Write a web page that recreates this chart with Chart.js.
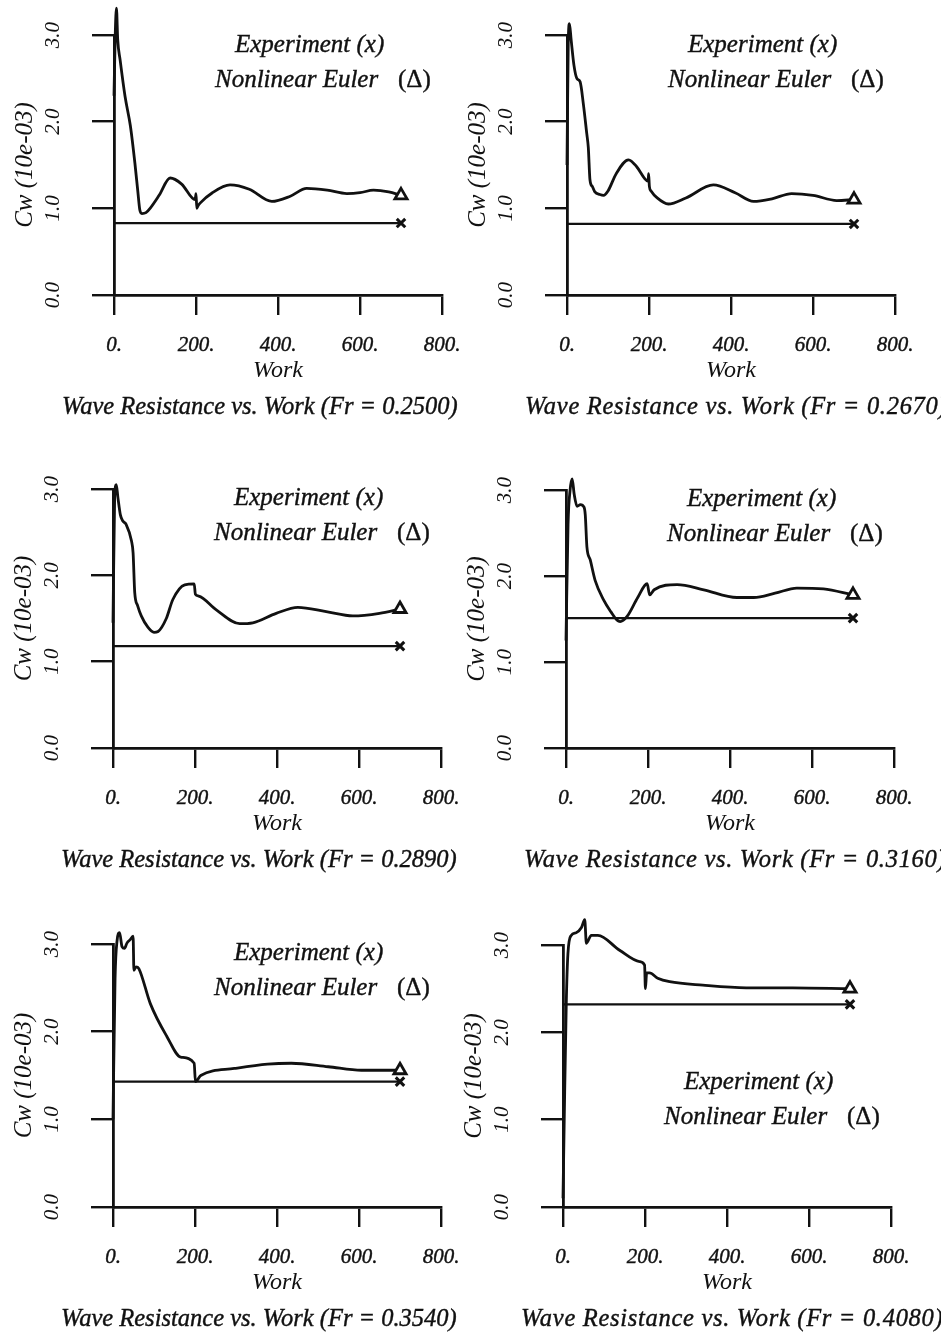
<!DOCTYPE html>
<html><head><meta charset="utf-8">
<script src="https://cdn.jsdelivr.net/npm/chart.js@4.4.1/dist/chart.umd.min.js"></script>
<style>
html,body{margin:0;padding:0;background:#fff;width:941px;height:1340px;overflow:hidden;position:relative;}
canvas{position:absolute;}
.fontwarm{position:absolute;left:-9999px;top:0;font-family:"Liberation Serif";}
</style></head><body>
<div class="fontwarm"><i>Experiment (x) 0.2500</i> (&#916;) Work</div>
<script>
// ---------------- data ----------------
const froudeNumbers = ['0.2500','0.2670','0.2890','0.3160','0.3540','0.4080'];
const xTickLabels = ['0.','200.','400.','600.','800.'];
const yTickLabels = ['0.0','1.0','2.0','3.0'];
const experimentWork = [0, 700];
const experimentCw = [0.83, 0.82, 1.18, 1.51, 1.43, 2.32];

const eulerWork2500 = [0, 3, 6, 9, 15, 27, 40, 51, 58, 63, 68, 78, 88, 110, 137, 165, 198, 200, 202, 205, 210, 240, 283, 330, 385, 430, 470, 520, 568, 600, 633, 670, 700];
const eulerCw2500   = [2.3, 3.0, 3.31, 2.95, 2.71, 2.29, 1.95, 1.52, 1.2, 0.98, 0.94, 0.95, 1.0, 1.15, 1.35, 1.28, 1.1, 1.17, 1.0, 1.03, 1.06, 1.18, 1.27, 1.22, 1.08, 1.14, 1.23, 1.21, 1.17, 1.18, 1.21, 1.19, 1.15];

const eulerWork2670 = [0, 3, 6, 10, 17, 24, 32, 40, 48, 52, 56, 62, 68, 80, 89, 100, 120, 150, 170, 190, 198, 199, 201, 205, 220, 247, 290, 357, 410, 455, 500, 548, 600, 658, 700];
const eulerCw2670   = [1.5, 2.9, 3.13, 2.95, 2.65, 2.5, 2.46, 2.2, 1.87, 1.7, 1.33, 1.25, 1.19, 1.16, 1.15, 1.2, 1.4, 1.56, 1.48, 1.34, 1.31, 1.4, 1.25, 1.2, 1.12, 1.05, 1.12, 1.27, 1.18, 1.08, 1.11, 1.17, 1.15, 1.09, 1.1];

const eulerWork2890 = [0, 4, 8, 12, 18, 24, 32, 45, 49, 53, 60, 69, 85, 100, 110, 130, 146, 175, 198, 201, 209, 252, 309, 341, 398, 451, 520, 585, 650, 700];
const eulerCw2890   = [1.45, 2.9, 3.05, 2.9, 2.7, 2.63, 2.59, 2.4, 2.26, 1.8, 1.65, 1.53, 1.4, 1.34, 1.35, 1.5, 1.72, 1.89, 1.9, 1.78, 1.76, 1.6, 1.44, 1.45, 1.56, 1.63, 1.58, 1.53, 1.56, 1.61];

const eulerWork3160 = [0, 5, 10, 15, 20, 27, 35, 44, 47, 51, 59, 71, 92, 110, 124, 132, 149, 175, 198, 204, 215, 271, 336, 417, 458, 510, 563, 628, 700];
const eulerCw3160   = [1.25, 2.6, 3.0, 3.13, 2.95, 2.81, 2.83, 2.8, 2.71, 2.34, 2.19, 1.95, 1.72, 1.58, 1.49, 1.47, 1.53, 1.75, 1.91, 1.78, 1.84, 1.9, 1.84, 1.75, 1.75, 1.8, 1.86, 1.85, 1.78];

const eulerWork3540 = [0, 5, 10, 16, 22, 28, 34, 42, 49, 51, 56, 63, 91, 132, 165, 198, 201, 214, 296, 377, 435, 525, 606, 650, 700];
const eulerCw3540   = [1.0, 2.6, 3.04, 3.13, 2.97, 2.95, 3.01, 3.05, 3.09, 2.7, 2.74, 2.72, 2.32, 1.94, 1.71, 1.64, 1.43, 1.5, 1.58, 1.63, 1.64, 1.6, 1.56, 1.56, 1.56];

const eulerWork4080 = [0, 3, 8, 12, 20, 32, 45, 53, 57, 69, 85, 138, 187, 199, 201, 204, 211, 231, 260, 341, 447, 560, 700];
const eulerCw4080   = [0.1, 1.0, 2.34, 2.9, 3.11, 3.14, 3.2, 3.29, 3.02, 3.11, 3.11, 2.94, 2.81, 2.77, 2.5, 2.68, 2.68, 2.62, 2.58, 2.54, 2.51, 2.51, 2.5];

const eulerWork = [eulerWork2500, eulerWork2670, eulerWork2890, eulerWork3160, eulerWork3540, eulerWork4080];
const eulerCw   = [eulerCw2500, eulerCw2670, eulerCw2890, eulerCw3160, eulerCw3540, eulerCw4080];

// ---------------- layout (canvas placement) ----------------
const panelLayout = [
  {left: 0,   top: 0,   plotH: 260, col: 0, noteTop: 10},
  {left: 453, top: 0,   plotH: 260, col: 1, noteTop: 10},
  {left: -1,  top: 454, plotH: 259, col: 0, noteTop: 9},
  {left: 452, top: 455, plotH: 258, col: 1, noteTop: 9},
  {left: -1,  top: 909, plotH: 263, col: 0, noteTop: 9},
  {left: 449, top: 910, plotH: 262, col: 1, noteTop: 137}
];
const CANVAS_W = 500, CANVAS_H = 440, Y_W = 114, X_H = 90, PAD_TOP = 35;
const INK = '#111';
const SERIF = '"Liberation Serif", "Times New Roman", Times, serif';

const textPlugin = {
  id: 'panelText',
  afterDraw(chart, args, opts) {
    const {ctx, chartArea: a} = chart;
    const ys = chart.scales.y;
    ctx.save();
    ctx.fillStyle = INK;
    ctx.strokeStyle = INK;
    ctx.lineWidth = 0.4;
    ctx.font = 'italic 21px ' + SERIF;
    ctx.textAlign = 'center';
    ctx.textBaseline = 'middle';
    yTickLabels.forEach(lab => {
      const y = ys.getPixelForValue(parseFloat(lab));
      ctx.save();
      ctx.translate(a.left - 61, y);
      ctx.rotate(-Math.PI / 2);
      ctx.fillText(lab, 0, 0);
      ctx.restore();
    });
    ctx.textAlign = 'left';
    ctx.font = 'italic 25px ' + SERIF;
    const draw = (t, x, y) => { ctx.fillText(t, x, y); ctx.strokeText(t, x, y); };
    draw('Experiment (x)', a.left + 121, a.top + opts.noteTop);
    draw('Nonlinear Euler', a.left + 101, a.top + opts.noteTop + 35);
    ctx.font = '25px ' + SERIF;
    draw('(\u0394)', a.left + 284, a.top + opts.noteTop + 35);
    ctx.font = 'italic 24.5px ' + SERIF;
    if (opts.col === 1 && 'letterSpacing' in ctx) ctx.letterSpacing = '0.7px';
    draw(opts.caption, a.left + (opts.col === 0 ? -52 : -42), a.bottom + 113);
    ctx.restore();
  }
};

const charts = [];
panelLayout.forEach((p, i) => {
  const cv = document.createElement('canvas');
  cv.width = CANVAS_W; cv.height = CANVAS_H;
  cv.style.left = p.left + 'px'; cv.style.top = p.top + 'px';
  cv.style.width = CANVAS_W + 'px'; cv.style.height = CANVAS_H + 'px';
  document.body.appendChild(cv);

  const eData = eulerWork[i].map((x, k) => ({x, y: eulerCw[i][k]}));
  const xData = experimentWork.map(x => ({x, y: experimentCw[i]}));
  const nE = eData.length;

  charts.push(new Chart(cv.getContext('2d'), {
    type: 'line',
    data: {
      datasets: [
        {
          label: 'Nonlinear Euler',
          data: eData,
          borderColor: INK, borderWidth: 2.8,
          cubicInterpolationMode: 'monotone',
          capBezierPoints: false,
          clip: false,
          pointStyle: 'triangle',
          pointRadius: ctx => ctx.dataIndex === nE - 1 ? 7 : 0,
          pointBorderWidth: 2.8,
          pointBorderColor: INK,
          pointBackgroundColor: '#fff'
        },
        {
          label: 'Experiment',
          data: xData,
          borderColor: INK, borderWidth: 2.2,
          clip: false,
          pointStyle: 'crossRot',
          pointRadius: ctx => ctx.dataIndex === 1 ? 6 : 0,
          pointBorderWidth: 3,
          pointBorderColor: INK
        }
      ]
    },
    options: {
      responsive: false,
      animation: false,
      devicePixelRatio: 1,
      events: [],
      layout: {padding: {left: 0, top: PAD_TOP, right: CANVAS_W - Y_W - 328, bottom: CANVAS_H - PAD_TOP - p.plotH - X_H}},
      plugins: {
        legend: {display: false},
        tooltip: {enabled: false},
        title: {display: false},
        panelText: {caption: 'Wave Resistance vs. Work (Fr = ' + froudeNumbers[i] + ')', col: p.col, noteTop: p.noteTop}
      },
      scales: {
        x: {
          type: 'linear', min: 0, max: 800,
          afterFit: s => { s.height = X_H; },
          ticks: {
            stepSize: 200, maxRotation: 0, minRotation: 0, autoSkip: false,
            padding: 18, color: INK,
            textStrokeColor: INK, textStrokeWidth: 0.4,
            font: {family: SERIF, size: 21, style: 'italic'},
            callback: (v) => xTickLabels[Math.round(v / 200)]
          },
          grid: {drawOnChartArea: false, drawTicks: true, tickLength: 20, color: INK, lineWidth: 2.4},
          border: {display: true, color: INK, width: 2.8},
          title: {display: true, text: 'Work', color: INK, padding: {top: 0, bottom: 0},
                  font: {family: SERIF, size: 24, style: 'italic'}}
        },
        y: {
          type: 'linear', min: 0, max: 3,
          afterFit: s => { s.width = Y_W; },
          ticks: {stepSize: 1, display: false},
          grid: {drawOnChartArea: false, drawTicks: true, tickLength: 22, color: INK, lineWidth: 2.4},
          border: {display: true, color: INK, width: 2.8},
          title: {display: true, text: 'Cw (10e-03)', color: INK, padding: {top: 10, bottom: 0},
                  font: {family: SERIF, size: 25, style: 'italic'}}
        }
      }
    },
    plugins: [textPlugin]
  }));
});

if (document.fonts && document.fonts.load) {
  Promise.all([
    document.fonts.load('italic 25px "Liberation Serif"'),
    document.fonts.load('25px "Liberation Serif"')
  ]).then(() => charts.forEach(c => c.update('none'))).catch(() => {});
}
</script>
</body></html>
